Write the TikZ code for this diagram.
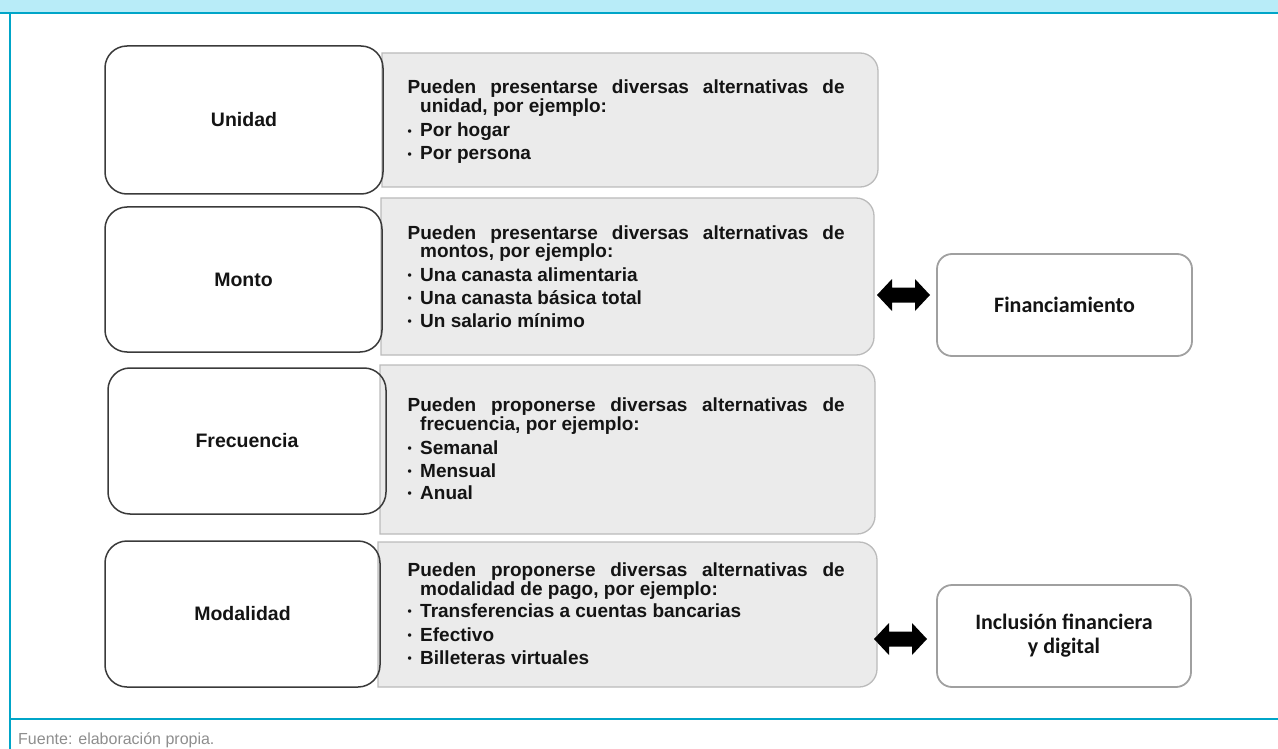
\documentclass[tikz,border=0pt]{standalone}
\usepackage{fontspec}
\setmainfont{Liberation Sans}
\newfontfamily\calib{Carlito}
\definecolor{tealc}{HTML}{00A5C8}
\definecolor{bandc}{HTML}{B8ECF8}
\definecolor{grayfill}{HTML}{EBEBEB}
\definecolor{grayline}{HTML}{BBBBBB}
\definecolor{boxline}{HTML}{3A3A3A}
\definecolor{txt}{HTML}{141414}
\definecolor{footc}{HTML}{8E8E8E}
\definecolor{rline}{HTML}{A0A0A0}
\newcommand\bul{\makebox[12.5pt][l]{\raisebox{1.5pt}{\fontsize{12}{12}\selectfont •}}}
\newcommand\jline[1]{\makebox[437pt][s]{#1}}
\newcommand\graybox[4]{%
  \path[fill=grayfill, draw=grayline, line width=1.3pt] (#1,-#2) -- ({#3-18},-#2)
    arc[start angle=90,end angle=0,radius=18pt] -- (#3,{-#4+18})
    arc[start angle=0,end angle=-90,radius=18pt] -- (#1,-#4) -- cycle;}
\newcommand\dblarrow[1]{%
  \fill[black] (#1) -- ++(15,16) -- ++(0,-8.5) -- ++(23,0) -- ++(0,8.5) -- ++(15,-16)
    -- ++(-15,-16) -- ++(0,8.5) -- ++(-23,0) -- ++(0,-8.5) -- cycle;}
\begin{document}
\begin{tikzpicture}[x=1pt,y=1pt,
  desc/.style={anchor=base west, inner sep=0pt, font=\fontsize{19}{19}\bfseries\selectfont, text=txt},
  labelbox/.style={rounded corners=22pt, draw=boxline, line width=1.5pt, inner sep=0pt,
    font=\fontsize{19.5}{20}\bfseries\selectfont, text=txt},
  rbox/.style={rounded corners=15pt, draw=rline, line width=1.8pt, fill=white, inner sep=0pt,
    font=\calib\fontsize{22}{24}\bfseries\selectfont, align=center, text=txt},
]
\useasboundingbox (0,0) rectangle (1278,-749);
% frame
\fill[bandc] (0,0) rectangle (1278,-12.5);
\draw[tealc, line width=2.5pt] (0,-13) -- (1278,-13);
\draw[tealc, line width=2pt] (10,-13) -- (10,-749);
\draw[tealc, line width=2pt] (10,-719) -- (1278,-719);
\node[anchor=base west, inner sep=0pt, font=\fontsize{16}{16}\selectfont, text=footc] (fuente) at (18,-744) {Fuente: elaboración propia.};

% gray description boxes
\graybox{382}{53}{878}{187}
\graybox{381}{198}{874}{355}
\graybox{380}{365}{875}{534}
\graybox{378}{542}{877}{687}

% left label boxes
\node[labelbox, minimum width=278pt, minimum height=148pt] (unidad) at (244,-120) {Unidad};
\node[labelbox, minimum width=277pt, minimum height=145pt] (monto) at (243.5,-279.5) {Monto};
\node[labelbox, minimum width=278pt, minimum height=146pt] (frec) at (247,-441) {Frecuencia};
\node[labelbox, minimum width=275pt, minimum height=146pt] (modal) at (242.5,-614) {Modalidad};

% description texts
\node[desc] (u1) at (407.5,-94) {\jline{Pueden presentarse diversas alternativas de}};
\node[desc] (u2) at (420,-113) {unidad, por ejemplo:};
\node[desc] (u3) at (407.5,-137) {\bul Por hogar};
\node[desc] (u4) at (407.5,-160) {\bul Por persona};

\node[desc] (m1) at (407.5,-240) {\jline{Pueden presentarse diversas alternativas de}};
\node[desc] (m2) at (420,-258) {montos, por ejemplo:};
\node[desc] (m3) at (407.5,-281) {\bul Una canasta alimentaria};
\node[desc] (m4) at (407.5,-304) {\bul Una canasta básica total};
\node[desc] (m5) at (407.5,-327) {\bul Un salario mínimo};

\node[desc] (f1) at (407.5,-411) {\jline{Pueden proponerse diversas alternativas de}};
\node[desc] (f2) at (420,-430) {frecuencia, por ejemplo:};
\node[desc] (f3) at (407.5,-454) {\bul Semanal};
\node[desc] (f4) at (407.5,-477) {\bul Mensual};
\node[desc] (f5) at (407.5,-499) {\bul Anual};

\node[desc] (d1) at (407.5,-576) {\jline{Pueden proponerse diversas alternativas de}};
\node[desc] (d2) at (420,-595) {modalidad de pago, por ejemplo:};
\node[desc] (d3) at (407.5,-617) {\bul Transferencias a cuentas bancarias};
\node[desc] (d4) at (407.5,-641) {\bul Efectivo};
\node[desc] (d5) at (407.5,-664) {\bul Billeteras virtuales};

% right boxes
\node[rbox, minimum width=255pt, minimum height=102pt] (fin) at (1064.5,-305) {Financiamiento};
\node[rbox, minimum width=254pt, minimum height=102pt] (inc) at (1064,-636) {Inclusión financiera\\y digital};

% double arrows
\coordinate (a1) at (877,-295);
\coordinate (a2) at (874,-639);
\dblarrow{a1}
\dblarrow{a2}
\end{tikzpicture}
\end{document}
